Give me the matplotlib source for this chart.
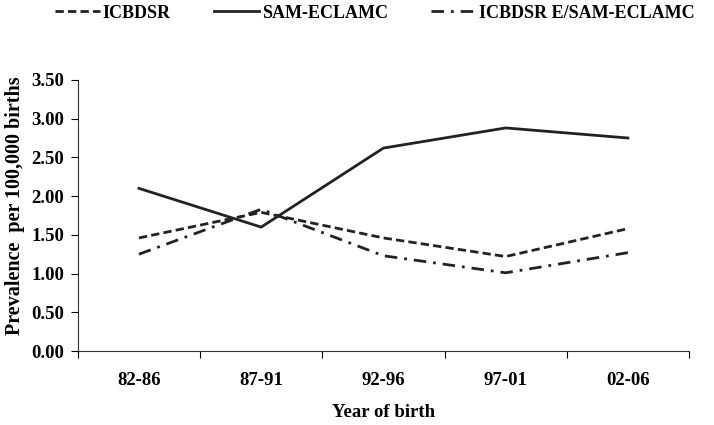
import matplotlib
matplotlib.use("Agg")
import matplotlib.pyplot as plt
from matplotlib.ticker import FixedLocator, NullFormatter

# 数据
years = ["82-86", "87-91", "92-96", "97-01", "02-06"]
icbdsr = [1.46, 1.79, 1.46, 1.22, 1.58]
sam_eclamc = [2.10, 1.60, 2.62, 2.88, 2.75]
icbdsr_e = [1.25, 1.83, 1.23, 1.01, 1.27]
y_ticks = [0.0, 0.5, 1.0, 1.5, 2.0, 2.5, 3.0, 3.5]

plt.rcParams["font.family"] = ["Liberation Serif", "DejaVu Serif"]
plt.rcParams["font.weight"] = "bold"

fig = plt.figure(figsize=(7.14, 4.25), dpi=100)
ax = fig.add_axes([0.109, 0.174, 0.856, 0.638])

x = list(range(len(years)))
lw = 2.0
ax.plot(x, icbdsr, color="#222222", linewidth=lw, linestyle=(0, (3.0, 1.5)), label="ICBDSR")
ax.plot(x, sam_eclamc, color="#222222", linewidth=lw, linestyle="-", label="SAM-ECLAMC")
ax.plot(x, icbdsr_e, color="#222222", linewidth=lw, linestyle=(0, (4.5, 2.5, 1, 2.5)),
        label="ICBDSR E/SAM-ECLAMC")

ax.set_xlim(-0.5, len(years) - 0.5)
ax.set_ylim(0, 3.5)
ax.set_yticks(y_ticks)
ax.set_yticklabels([f"{v:.2f}" for v in y_ticks])

# 类别标签居中，刻度线在类别边界
ax.xaxis.set_major_locator(FixedLocator([i - 0.5 for i in range(len(years) + 1)]))
ax.xaxis.set_major_formatter(NullFormatter())
ax.xaxis.set_minor_locator(FixedLocator(x))
ax.set_xticklabels(years, minor=True)
ax.tick_params(axis="x", which="minor", length=0, pad=15, labelsize=13.5)
ax.tick_params(axis="x", which="major", length=5, direction="out", width=0.8)
ax.tick_params(axis="y", length=5, direction="out", width=0.8, labelsize=13.5, pad=5)

for s in ["top", "right"]:
    ax.spines[s].set_visible(False)
for s in ["left", "bottom"]:
    ax.spines[s].set_linewidth(0.8)
    ax.spines[s].set_color("#333333")

ax.set_xlabel("Year of birth", fontsize=13.5, fontweight="bold", labelpad=11)
ax.set_ylabel("Prevalence  per 100,000 births", fontsize=14.5, fontweight="bold")
ax.yaxis.set_label_coords(-0.087, 0.535)

fig.legend(*ax.get_legend_handles_labels(), loc="center left",
           bbox_to_anchor=(0.077, 1 - 13 / 425), ncol=3, frameon=False,
           fontsize=13, handlelength=2.5, handletextpad=0.15, columnspacing=2.4,
           borderpad=0, borderaxespad=0)

fig.savefig("out.png", dpi=100)
